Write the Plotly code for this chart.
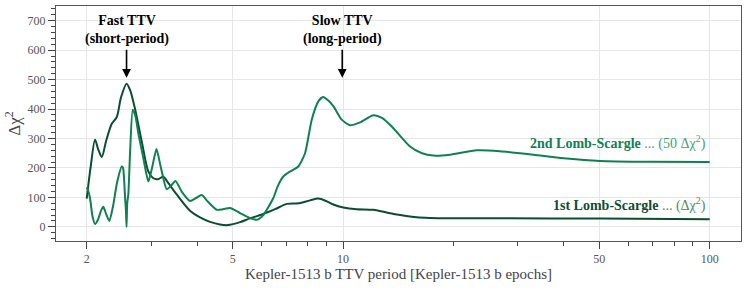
import numpy as np
import plotly.graph_objects as go

# 1st Lomb-Scargle periodogram (delta chi^2)
period_1st = [2.00, 2.048, 2.107, 2.147, 2.198, 2.257, 2.340, 2.415, 2.481, 2.568, 2.625,
              2.709, 2.825, 2.945, 3.038, 3.129, 3.235, 3.332, 3.519, 3.825, 4.074, 4.339,
              4.619, 4.858, 5.238, 5.577, 6.012, 6.526, 7.023, 7.551, 8.127, 8.563, 8.987,
              9.409, 10.02, 10.90, 12.09, 13.72, 15.88, 19.58, 26.8, 50.2, 100.0]
dchi2_1st = [96, 200, 296, 265, 237, 290, 350, 373, 440, 486, 465,
             400, 290, 188, 165, 162, 170, 150, 110, 55, 32, 17,
             8, 6, 16, 29, 42, 60, 78, 80, 90, 96, 88,
             76, 66, 60, 58, 44, 33, 29, 29.5, 28, 26]

# 2nd Lomb-Scargle periodogram (50 x delta chi^2)
period_2nd = [2.00, 2.016, 2.042, 2.074, 2.107, 2.147, 2.188, 2.220, 2.257, 2.305, 2.359,
              2.419, 2.492, 2.512, 2.544, 2.557, 2.568, 2.579, 2.597, 2.625, 2.670, 2.717,
              2.765, 2.854, 2.945, 3.014, 3.099, 3.188, 3.305, 3.396, 3.493, 3.639, 3.825,
              3.972, 4.118, 4.284, 4.526, 4.708, 4.919, 5.238, 5.577, 5.816, 6.062, 6.243,
              6.455, 6.648, 6.872, 7.168, 7.551, 7.877, 8.216, 8.563, 8.819, 9.100, 9.409,
              9.918, 10.45, 11.13, 12.09, 12.77, 13.60, 15.23, 16.42, 17.63, 19.58, 23.15,
              26.8, 33.04, 40.74, 50.2, 68.7, 100.0]
dchi2_2nd = [134, 125, 97, 35, 10, 25, 55, 68, 45, 20, 70,
             150, 205, 200, 100, 60, 0, 80, 110, 250, 398, 375,
             318, 233, 154, 200, 264, 200, 128, 140, 156, 118, 88,
             98, 108, 85, 58, 60, 64, 47, 30, 24, 40, 65,
             98, 140, 171, 188, 205, 250, 364, 426, 441, 430, 410,
             364, 345, 355, 379, 370, 340, 273, 250, 242, 245, 260,
             257, 245, 232, 224, 221, 220]

x_major = [2, 5, 10, 50, 100]
x_minor = [3, 4, 6, 7, 8, 9, 20, 30, 40, 60, 70, 80, 90]
y_major = [0, 100, 200, 300, 400, 500, 600, 700]

fast_period, fast_tip, fast_text_y = 2.568, 506, 668
slow_period, slow_tip, slow_text_y = 9.95, 506, 668

c_dark = "#0b4d33"
c_mid = "#0f8052"
font_family = "'Liberation Serif', 'Times New Roman', serif"

fig = go.Figure()
fig.add_trace(go.Scatter(x=period_1st, y=dchi2_1st, mode="lines",
                         line=dict(color=c_dark, width=2, shape="spline", smoothing=0.8),
                         showlegend=False))
fig.add_trace(go.Scatter(x=period_2nd, y=dchi2_2nd, mode="lines",
                         line=dict(color=c_mid, width=2, shape="spline", smoothing=0.6),
                         showlegend=False))

for p, tip, ty, txt in [(fast_period, fast_tip, fast_text_y, "<b>Fast TTV</b><br><b>(short-period)</b>"),
                        (slow_period, slow_tip, slow_text_y, "<b>Slow TTV</b><br><b>(long-period)</b>")]:
    fig.add_annotation(x=np.log10(p), y=tip, ax=np.log10(p), ay=ty, axref="x", ayref="y",
                       text=txt, showarrow=True, arrowhead=2, arrowsize=1.1, arrowwidth=1.6,
                       arrowcolor="black", font=dict(family=font_family, size=14, color="black"),
                       borderpad=2)

fig.add_annotation(x=np.log10(100), y=285, xanchor="right", xshift=-2, showarrow=False,
                   text="<b>2nd Lomb-Scargle</b> <span style='color:#4a9d78'>... (50 Δχ<sup>2</sup>)</span>",
                   font=dict(family=font_family, size=14, color=c_mid))
fig.add_annotation(x=np.log10(100), y=75, xanchor="right", xshift=-2, showarrow=False,
                   text="<b>1st Lomb-Scargle</b> <span style='color:#4a8a6c'>... (Δχ<sup>2</sup>)</span>",
                   font=dict(family=font_family, size=14, color=c_dark))

fig.update_xaxes(type="log", range=[np.log10(1.649), np.log10(121.7)], automargin=False,
                 tickmode="array", tickvals=x_major, ticktext=[str(v) for v in x_major],
                 ticks="outside", ticklen=7, tickcolor="#444", tickwidth=1,
                 minor=dict(tickmode="array", tickvals=x_minor, ticks="outside", ticklen=4,
                            tickcolor="#444", showgrid=False),
                 showgrid=True, gridcolor="#e6e6e6", gridwidth=1,
                 showline=True, mirror=True, linecolor="#555", linewidth=1,
                 tickfont=dict(family=font_family, size=12, color="#555"),
                 title=dict(text="Kepler-1513 b TTV period [Kepler-1513 b epochs]",
                            font=dict(family=font_family, size=15, color="#444"), standoff=2),
                 zeroline=False)
fig.update_yaxes(range=[-48, 750], tickmode="array", tickvals=y_major, automargin=False,
                 ticks="outside", ticklen=7, tickcolor="#444", tickwidth=1,
                 minor=dict(dtick=20, ticks="outside", ticklen=4, tickcolor="#444", showgrid=False),
                 showgrid=True, gridcolor="#e6e6e6", gridwidth=1,
                 showline=True, mirror=True, linecolor="#555", linewidth=1,
                 tickfont=dict(family=font_family, size=12, color="#555"),
                 title=dict(text="Δχ<sup>2</sup>", font=dict(family=font_family, size=17, color="#444"),
                            standoff=2),
                 zeroline=False)

fig.update_layout(width=747, height=291, margin=dict(l=56, r=6, t=6, b=50),
                  plot_bgcolor="white", paper_bgcolor="white",
                  font=dict(family=font_family))
fig.write_html("out.html", config={"displayModeBar": False},
               post_script="document.body.style.margin='0px';")
